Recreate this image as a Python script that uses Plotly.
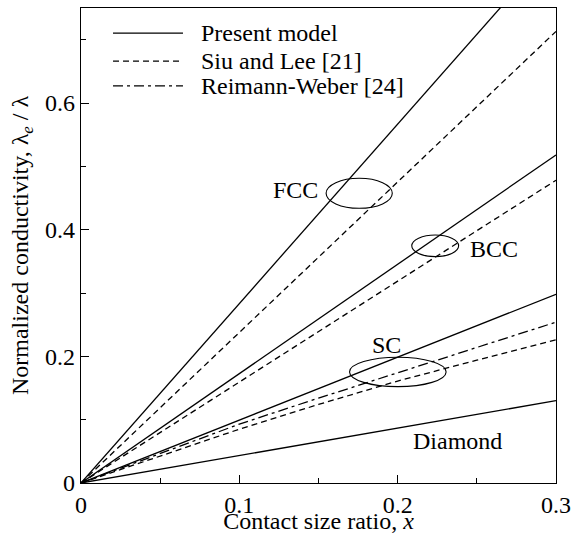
import plotly.graph_objects as go

# ---- data ----
x_lin = [0.0, 0.3]
fcc_present = [0.0, 0.850]
fcc_siu = [0.0, 0.713]
bcc_present = [0.0, 0.518]
bcc_siu = [0.0, 0.478]
sc_present = [0.0, 0.298]
diamond_present = [0.0, 0.130]

x_sc = [0.0, 0.05, 0.10, 0.15, 0.20, 0.25, 0.30]
sc_reimann = [0.0, 0.047, 0.093, 0.134, 0.174, 0.214, 0.254]
sc_siu = [0.0, 0.043, 0.085, 0.124, 0.161, 0.194, 0.226]

x_ticks = [0, 0.1, 0.2, 0.3]
x_ticktext = ["0", "0.1", "0.2", "0.3"]
y_ticks = [0, 0.2, 0.4, 0.6]
y_ticktext = ["0", "0.2", "0.4", "0.6"]

legend_names = ["Present model", "Siu and Lee [21]", "Reimann-Weber [24]"]

FONT = "Liberation Serif, Times New Roman, serif"
FS = 24
LW = 1.3
SOLID = "solid"
DASH = "6px,4px"
DASHDOT = "10px,4px,3px,4px"

fig = go.Figure()

def add(x, y, dash):
    fig.add_trace(go.Scatter(x=x, y=y, mode="lines", showlegend=False,
                             line=dict(color="black", width=LW, dash=dash),
                             hoverinfo="skip"))

add(x_lin, fcc_present, SOLID)
add(x_lin, fcc_siu, DASH)
add(x_lin, bcc_present, SOLID)
add(x_lin, bcc_siu, DASH)
add(x_lin, sc_present, SOLID)
add(x_sc, sc_reimann, DASHDOT)
add(x_sc, sc_siu, DASH)
add(x_lin, diamond_present, SOLID)

# ellipses (annotation decorations)
def ellipse(cx, cy, rx, ry):
    fig.add_shape(type="circle", xref="x", yref="y",
                  x0=cx - rx, x1=cx + rx, y0=cy - ry, y1=cy + ry,
                  line=dict(color="black", width=1.1))

ellipse(0.1757, 0.4574, 0.0209, 0.0237)
ellipse(0.2237, 0.3745, 0.0148, 0.0171)
ellipse(0.2001, 0.1753, 0.0305, 0.0232)

def label(x, y, text, xanchor):
    fig.add_annotation(x=x, y=y, xref="x", yref="y", text=text, showarrow=False,
                       xanchor=xanchor, yanchor="middle",
                       font=dict(family=FONT, size=FS, color="black"))

label(0.151, 0.463, "FCC", "right")
label(0.2446, 0.370, "BCC", "left")
label(0.1928, 0.2185, "SC", "center")
label(0.238, 0.0668, "Diamond", "center")

# legend (manual, paper coords)
leg_y = [0.947, 0.888, 0.836]
leg_dash = [SOLID, DASH, DASHDOT]
for name, yy, d in zip(legend_names, leg_y, leg_dash):
    fig.add_shape(type="line", xref="paper", yref="paper",
                  x0=0.0674, x1=0.2147, y0=yy, y1=yy,
                  line=dict(color="black", width=LW, dash=d))
    fig.add_annotation(x=0.248, y=yy, xref="paper", yref="paper", text=name,
                       showarrow=False, xanchor="left", yanchor="middle",
                       font=dict(family=FONT, size=FS, color="black"))

axis_common = dict(
    showline=True, linecolor="black", linewidth=1.3, mirror=True,
    ticks="inside", ticklen=8, tickwidth=1.2, tickcolor="black",
    showgrid=False, zeroline=False, ticklabeloverflow="allow",
    tickfont=dict(family=FONT, size=FS, color="black"),
)

fig.update_xaxes(range=[0, 0.3], tickvals=x_ticks, ticktext=x_ticktext,
                 minor=dict(tickvals=[0.05, 0.15, 0.25], ticks="inside", ticklen=5,
                            tickwidth=1.2, tickcolor="black", showgrid=False),
                 title=dict(text="Contact size ratio, <i>x</i>",
                            font=dict(family=FONT, size=FS, color="black"), standoff=0),
                 **axis_common)
fig.update_yaxes(range=[0, 0.75], tickvals=y_ticks, ticktext=y_ticktext,
                 minor=dict(tickvals=[0.1, 0.3, 0.5, 0.7], ticks="inside", ticklen=5,
                            tickwidth=1.2, tickcolor="black", showgrid=False),
                 title=dict(text="Normalized conductivity, λ<sub><i>e</i></sub> / λ",
                            font=dict(family=FONT, size=FS, color="black"), standoff=9),
                 **axis_common)

fig.update_layout(
    width=571, height=534,
    margin=dict(l=81, r=15, t=8, b=51, autoexpand=False),
    plot_bgcolor="white", paper_bgcolor="white",
    showlegend=False,
    font=dict(family=FONT, size=FS, color="black"),
)

fig.write_html("out.html", config={"displayModeBar": False},
               post_script="document.body.style.margin='0';")
